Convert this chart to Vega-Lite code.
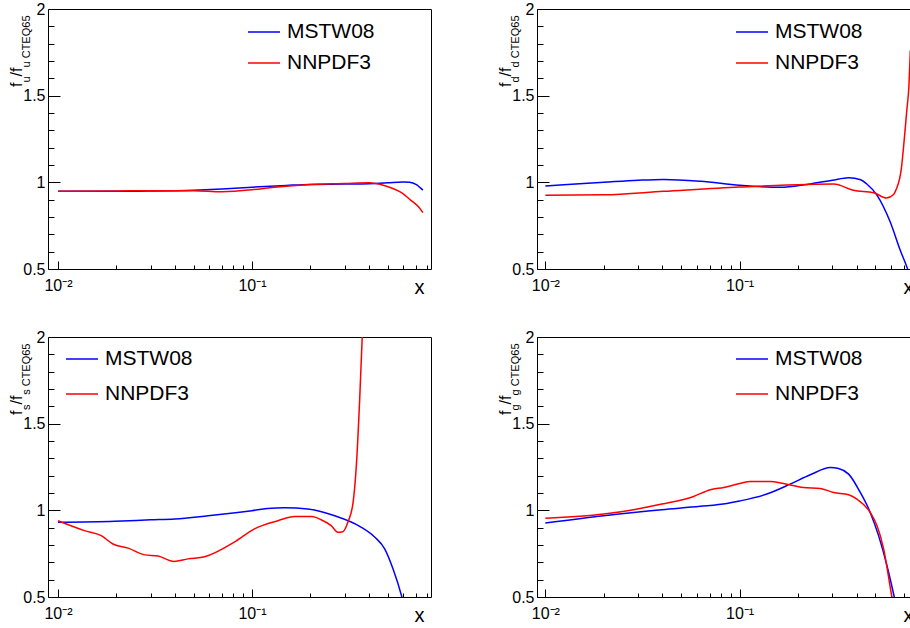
{
  "$schema": "https://vega.github.io/schema/vega-lite/v6.json",
  "padding": {"left": 7, "top": 0, "right": 0, "bottom": 0},
  "background": "white",
  "config": {
    "font": "Liberation Sans",
    "view": {"stroke": "black", "strokeWidth": 1},
    "axis": {"grid": false, "domain": false, "tickColor": "black", "tickWidth": 1, "labelColor": "black", "titleColor": "black", "titleFontWeight": "normal", "labelFont": "Liberation Sans", "titleFont": "Liberation Sans", "labelFlush": false, "labelOverlap": false, "labelBound": false},
    "legend": {"labelFont": "Liberation Sans", "labelColor": "black"}
  },
  "datasets": {
    "u": [
      {"x": 0.01, "y": 0.948, "pdf": "MSTW08"}, {"x": 0.015, "y": 0.948, "pdf": "MSTW08"}, {"x": 0.02, "y": 0.948, "pdf": "MSTW08"}, {"x": 0.03, "y": 0.95, "pdf": "MSTW08"}, {"x": 0.05, "y": 0.955, "pdf": "MSTW08"}, {"x": 0.07, "y": 0.962, "pdf": "MSTW08"}, {"x": 0.1, "y": 0.972, "pdf": "MSTW08"}, {"x": 0.15, "y": 0.982, "pdf": "MSTW08"}, {"x": 0.2, "y": 0.988, "pdf": "MSTW08"}, {"x": 0.3, "y": 0.99, "pdf": "MSTW08"}, {"x": 0.4, "y": 0.992, "pdf": "MSTW08"}, {"x": 0.5, "y": 0.997, "pdf": "MSTW08"}, {"x": 0.6, "y": 1.002, "pdf": "MSTW08"}, {"x": 0.65, "y": 1.0, "pdf": "MSTW08"}, {"x": 0.7, "y": 0.988, "pdf": "MSTW08"}, {"x": 0.76, "y": 0.955, "pdf": "MSTW08"},
      {"x": 0.01, "y": 0.948, "pdf": "NNPDF3"}, {"x": 0.02, "y": 0.95, "pdf": "NNPDF3"}, {"x": 0.03, "y": 0.952, "pdf": "NNPDF3"}, {"x": 0.05, "y": 0.952, "pdf": "NNPDF3"}, {"x": 0.07, "y": 0.946, "pdf": "NNPDF3"}, {"x": 0.1, "y": 0.957, "pdf": "NNPDF3"}, {"x": 0.13, "y": 0.972, "pdf": "NNPDF3"}, {"x": 0.2, "y": 0.988, "pdf": "NNPDF3"}, {"x": 0.3, "y": 0.993, "pdf": "NNPDF3"}, {"x": 0.4, "y": 0.997, "pdf": "NNPDF3"}, {"x": 0.48, "y": 0.982, "pdf": "NNPDF3"}, {"x": 0.59, "y": 0.94, "pdf": "NNPDF3"}, {"x": 0.66, "y": 0.896, "pdf": "NNPDF3"}, {"x": 0.72, "y": 0.86, "pdf": "NNPDF3"}, {"x": 0.76, "y": 0.825, "pdf": "NNPDF3"}
    ],
    "d": [
      {"x": 0.01, "y": 0.979, "pdf": "MSTW08"}, {"x": 0.02, "y": 1.0, "pdf": "MSTW08"}, {"x": 0.03, "y": 1.012, "pdf": "MSTW08"}, {"x": 0.0406, "y": 1.017, "pdf": "MSTW08"}, {"x": 0.063, "y": 1.006, "pdf": "MSTW08"}, {"x": 0.1, "y": 0.983, "pdf": "MSTW08"}, {"x": 0.162, "y": 0.971, "pdf": "MSTW08"}, {"x": 0.222, "y": 0.988, "pdf": "MSTW08"}, {"x": 0.3, "y": 1.012, "pdf": "MSTW08"}, {"x": 0.364, "y": 1.027, "pdf": "MSTW08"}, {"x": 0.42, "y": 1.015, "pdf": "MSTW08"}, {"x": 0.45, "y": 0.992, "pdf": "MSTW08"}, {"x": 0.51, "y": 0.925, "pdf": "MSTW08"}, {"x": 0.596, "y": 0.771, "pdf": "MSTW08"}, {"x": 0.671, "y": 0.608, "pdf": "MSTW08"}, {"x": 0.732, "y": 0.5, "pdf": "MSTW08"}, {"x": 0.76, "y": 0.44, "pdf": "MSTW08"},
      {"x": 0.01, "y": 0.925, "pdf": "NNPDF3"}, {"x": 0.02, "y": 0.928, "pdf": "NNPDF3"}, {"x": 0.0406, "y": 0.948, "pdf": "NNPDF3"}, {"x": 0.1, "y": 0.973, "pdf": "NNPDF3"}, {"x": 0.222, "y": 0.988, "pdf": "NNPDF3"}, {"x": 0.305, "y": 0.99, "pdf": "NNPDF3"}, {"x": 0.385, "y": 0.954, "pdf": "NNPDF3"}, {"x": 0.49, "y": 0.94, "pdf": "NNPDF3"}, {"x": 0.57, "y": 0.91, "pdf": "NNPDF3"}, {"x": 0.62, "y": 0.93, "pdf": "NNPDF3"}, {"x": 0.64, "y": 0.96, "pdf": "NNPDF3"}, {"x": 0.68, "y": 1.08, "pdf": "NNPDF3"}, {"x": 0.7, "y": 1.22, "pdf": "NNPDF3"}, {"x": 0.713, "y": 1.32, "pdf": "NNPDF3"}, {"x": 0.726, "y": 1.42, "pdf": "NNPDF3"}, {"x": 0.744, "y": 1.56, "pdf": "NNPDF3"}, {"x": 0.756, "y": 1.76, "pdf": "NNPDF3"}
    ],
    "s": [
      {"x": 0.01, "y": 0.931, "pdf": "MSTW08"}, {"x": 0.0196, "y": 0.937, "pdf": "MSTW08"}, {"x": 0.03, "y": 0.945, "pdf": "MSTW08"}, {"x": 0.04, "y": 0.95, "pdf": "MSTW08"}, {"x": 0.0594, "y": 0.969, "pdf": "MSTW08"}, {"x": 0.08, "y": 0.985, "pdf": "MSTW08"}, {"x": 0.1, "y": 0.998, "pdf": "MSTW08"}, {"x": 0.12, "y": 1.01, "pdf": "MSTW08"}, {"x": 0.147, "y": 1.015, "pdf": "MSTW08"}, {"x": 0.194, "y": 1.008, "pdf": "MSTW08"}, {"x": 0.267, "y": 0.969, "pdf": "MSTW08"}, {"x": 0.359, "y": 0.908, "pdf": "MSTW08"}, {"x": 0.43, "y": 0.845, "pdf": "MSTW08"}, {"x": 0.483, "y": 0.778, "pdf": "MSTW08"}, {"x": 0.533, "y": 0.663, "pdf": "MSTW08"}, {"x": 0.589, "y": 0.51, "pdf": "MSTW08"}, {"x": 0.65, "y": 0.3, "pdf": "MSTW08"},
      {"x": 0.01, "y": 0.94, "pdf": "NNPDF3"}, {"x": 0.0137, "y": 0.883, "pdf": "NNPDF3"}, {"x": 0.0167, "y": 0.854, "pdf": "NNPDF3"}, {"x": 0.0192, "y": 0.806, "pdf": "NNPDF3"}, {"x": 0.023, "y": 0.782, "pdf": "NNPDF3"}, {"x": 0.028, "y": 0.743, "pdf": "NNPDF3"}, {"x": 0.0328, "y": 0.736, "pdf": "NNPDF3"}, {"x": 0.0396, "y": 0.705, "pdf": "NNPDF3"}, {"x": 0.0468, "y": 0.72, "pdf": "NNPDF3"}, {"x": 0.057, "y": 0.732, "pdf": "NNPDF3"}, {"x": 0.081, "y": 0.816, "pdf": "NNPDF3"}, {"x": 0.103, "y": 0.893, "pdf": "NNPDF3"}, {"x": 0.136, "y": 0.94, "pdf": "NNPDF3"}, {"x": 0.166, "y": 0.964, "pdf": "NNPDF3"}, {"x": 0.203, "y": 0.964, "pdf": "NNPDF3"}, {"x": 0.227, "y": 0.946, "pdf": "NNPDF3"}, {"x": 0.256, "y": 0.912, "pdf": "NNPDF3"}, {"x": 0.277, "y": 0.874, "pdf": "NNPDF3"}, {"x": 0.294, "y": 0.877, "pdf": "NNPDF3"}, {"x": 0.312, "y": 0.931, "pdf": "NNPDF3"}, {"x": 0.332, "y": 1.046, "pdf": "NNPDF3"}, {"x": 0.345, "y": 1.257, "pdf": "NNPDF3"}, {"x": 0.359, "y": 1.64, "pdf": "NNPDF3"}, {"x": 0.37, "y": 2.0, "pdf": "NNPDF3"}, {"x": 0.38, "y": 2.4, "pdf": "NNPDF3"}
    ],
    "g": [
      {"x": 0.01, "y": 0.927, "pdf": "MSTW08"}, {"x": 0.02, "y": 0.969, "pdf": "MSTW08"}, {"x": 0.0398, "y": 1.004, "pdf": "MSTW08"}, {"x": 0.0627, "y": 1.023, "pdf": "MSTW08"}, {"x": 0.086, "y": 1.04, "pdf": "MSTW08"}, {"x": 0.1, "y": 1.054, "pdf": "MSTW08"}, {"x": 0.138, "y": 1.094, "pdf": "MSTW08"}, {"x": 0.182, "y": 1.151, "pdf": "MSTW08"}, {"x": 0.231, "y": 1.205, "pdf": "MSTW08"}, {"x": 0.293, "y": 1.247, "pdf": "MSTW08"}, {"x": 0.323, "y": 1.241, "pdf": "MSTW08"}, {"x": 0.364, "y": 1.209, "pdf": "MSTW08"}, {"x": 0.418, "y": 1.103, "pdf": "MSTW08"}, {"x": 0.47, "y": 0.988, "pdf": "MSTW08"}, {"x": 0.519, "y": 0.854, "pdf": "MSTW08"}, {"x": 0.573, "y": 0.682, "pdf": "MSTW08"}, {"x": 0.625, "y": 0.5, "pdf": "MSTW08"}, {"x": 0.68, "y": 0.3, "pdf": "MSTW08"},
      {"x": 0.01, "y": 0.954, "pdf": "NNPDF3"}, {"x": 0.02, "y": 0.979, "pdf": "NNPDF3"}, {"x": 0.0285, "y": 1.004, "pdf": "NNPDF3"}, {"x": 0.0398, "y": 1.036, "pdf": "NNPDF3"}, {"x": 0.058, "y": 1.08, "pdf": "NNPDF3"}, {"x": 0.0706, "y": 1.119, "pdf": "NNPDF3"}, {"x": 0.0829, "y": 1.132, "pdf": "NNPDF3"}, {"x": 0.1, "y": 1.155, "pdf": "NNPDF3"}, {"x": 0.114, "y": 1.167, "pdf": "NNPDF3"}, {"x": 0.144, "y": 1.167, "pdf": "NNPDF3"}, {"x": 0.168, "y": 1.155, "pdf": "NNPDF3"}, {"x": 0.213, "y": 1.132, "pdf": "NNPDF3"}, {"x": 0.26, "y": 1.126, "pdf": "NNPDF3"}, {"x": 0.305, "y": 1.103, "pdf": "NNPDF3"}, {"x": 0.364, "y": 1.09, "pdf": "NNPDF3"}, {"x": 0.402, "y": 1.065, "pdf": "NNPDF3"}, {"x": 0.47, "y": 0.988, "pdf": "NNPDF3"}, {"x": 0.509, "y": 0.912, "pdf": "NNPDF3"}, {"x": 0.551, "y": 0.778, "pdf": "NNPDF3"}, {"x": 0.608, "y": 0.5, "pdf": "NNPDF3"}, {"x": 0.66, "y": 0.3, "pdf": "NNPDF3"}
    ]
  },
  "columns": 2,
  "spacing": {"row": 68, "column": 106},
  "bounds": "flush",
  "resolve": {"legend": {"color": "independent"}},
  "concat": [
    {
      "width": 383, "height": 260, "data": {"name": "u"},
      "resolve": {"axis": {"x": "independent", "y": "independent"}},
      "layer": [
        {"mark": {"type": "line", "strokeWidth": 1.5, "clip": true, "interpolate": "monotone"},
         "encoding": {
           "x": {"field": "x", "type": "quantitative", "scale": {"type": "log", "domain": [0.00888, 0.837], "nice": false}, "axis": {"orient": "bottom", "values": [0.01, 0.1], "tickSize": -8, "labelPadding": 16, "labelBaseline": "top", "labelFontSize": 16, "labelExpr": "datum.value < 0.05 ? '10⁻²' : '10⁻¹'", "title": "x", "titleFontSize": 20, "titleAlign": "right", "titleBaseline": "alphabetic", "titleX": 376, "titleY": 24}},
           "y": {"field": "y", "type": "quantitative", "scale": {"domain": [0.5, 2], "nice": false, "zero": false}, "axis": {"orient": "left", "values": [0.5, 1, 1.5, 2], "tickSize": -12, "labelPadding": 15, "labelFontSize": 16, "labelBaseline": "middle", "labelExpr": "'' + datum.value", "title": "f", "titleFontSize": 16, "titleAngle": 270, "titleAlign": "right", "titleBaseline": "alphabetic", "titleX": -27, "titleY": 73}},
           "color": {"field": "pdf", "type": "nominal", "scale": {"domain": ["MSTW08", "NNPDF3"], "range": ["#0000ff", "#ff0000"]}, "legend": {"orient": "none", "legendX": 199, "legendY": 6, "title": null, "symbolType": "stroke", "symbolSize": 1024, "symbolStrokeWidth": 1.5, "labelFontSize": 21, "labelOffset": 6, "rowPadding": 4, "padding": 0}}
         }},
        {"mark": {"type": "line", "strokeOpacity": 0, "clip": true},
         "encoding": {
           "x": {"field": "x", "type": "quantitative", "scale": {"type": "log", "domain": [0.00888, 0.837], "nice": false}, "axis": {"orient": "bottom", "values": [0.02, 0.03, 0.04, 0.05, 0.06, 0.07, 0.08, 0.09, 0.2, 0.3, 0.4, 0.5, 0.6, 0.7, 0.8], "tickSize": -4, "labels": false, "title": null}},
           "y": {"field": "y", "type": "quantitative", "scale": {"domain": [0.5, 2], "nice": false, "zero": false}, "axis": {"orient": "left", "values": [0.6, 0.7, 0.8, 0.9, 1.1, 1.2, 1.3, 1.4, 1.6, 1.7, 1.8, 1.9], "tickSize": -6, "labels": false, "title": "u", "titleFontSize": 11, "titleAngle": 270, "titleAlign": "right", "titleBaseline": "alphabetic", "titleX": -19, "titleY": 66.9}},
           "detail": {"field": "pdf"}
         }},
        {"mark": {"type": "line", "strokeOpacity": 0, "clip": true},
         "encoding": {
           "x": {"field": "x", "type": "quantitative", "axis": null},
           "y": {"field": "y", "type": "quantitative", "axis": {"orient": "left", "ticks": false, "labels": false, "title": "/f", "titleFontSize": 16, "titleAngle": 270, "titleAlign": "right", "titleBaseline": "alphabetic", "titleX": -27, "titleY": 58}},
           "detail": {"field": "pdf"}
         }},
        {"mark": {"type": "line", "strokeOpacity": 0, "clip": true},
         "encoding": {
           "x": {"field": "x", "type": "quantitative", "axis": null},
           "y": {"field": "y", "type": "quantitative", "axis": {"orient": "left", "ticks": false, "labels": false, "title": "u CTEQ65", "titleFontSize": 11, "titleAngle": 270, "titleAlign": "right", "titleBaseline": "alphabetic", "titleX": -19, "titleY": 6}},
           "detail": {"field": "pdf"}
         }}
      ]
    },
    {
      "width": 383, "height": 260, "data": {"name": "d"},
      "resolve": {"axis": {"x": "independent", "y": "independent"}},
      "layer": [
        {"mark": {"type": "line", "strokeWidth": 1.5, "clip": true, "interpolate": "monotone"},
         "encoding": {
           "x": {"field": "x", "type": "quantitative", "scale": {"type": "log", "domain": [0.00906, 0.848], "nice": false}, "axis": {"orient": "bottom", "values": [0.01, 0.1], "tickSize": -8, "labelPadding": 16, "labelBaseline": "top", "labelFontSize": 16, "labelExpr": "datum.value < 0.05 ? '10⁻²' : '10⁻¹'", "title": "x", "titleFontSize": 20, "titleAlign": "right", "titleBaseline": "alphabetic", "titleX": 376, "titleY": 24}},
           "y": {"field": "y", "type": "quantitative", "scale": {"domain": [0.5, 2], "nice": false, "zero": false}, "axis": {"orient": "left", "values": [0.5, 1, 1.5, 2], "tickSize": -12, "labelPadding": 15, "labelFontSize": 16, "labelBaseline": "middle", "labelExpr": "'' + datum.value", "title": "f", "titleFontSize": 16, "titleAngle": 270, "titleAlign": "right", "titleBaseline": "alphabetic", "titleX": -27, "titleY": 73}},
           "color": {"field": "pdf", "type": "nominal", "scale": {"domain": ["MSTW08", "NNPDF3"], "range": ["#0000ff", "#ff0000"]}, "legend": {"orient": "none", "legendX": 198, "legendY": 6, "title": null, "symbolType": "stroke", "symbolSize": 1024, "symbolStrokeWidth": 1.5, "labelFontSize": 21, "labelOffset": 6, "rowPadding": 4, "padding": 0}}
         }},
        {"mark": {"type": "line", "strokeOpacity": 0, "clip": true},
         "encoding": {
           "x": {"field": "x", "type": "quantitative", "scale": {"type": "log", "domain": [0.00906, 0.848], "nice": false}, "axis": {"orient": "bottom", "values": [0.02, 0.03, 0.04, 0.05, 0.06, 0.07, 0.08, 0.09, 0.2, 0.3, 0.4, 0.5, 0.6, 0.7, 0.8], "tickSize": -4, "labels": false, "title": null}},
           "y": {"field": "y", "type": "quantitative", "scale": {"domain": [0.5, 2], "nice": false, "zero": false}, "axis": {"orient": "left", "values": [0.6, 0.7, 0.8, 0.9, 1.1, 1.2, 1.3, 1.4, 1.6, 1.7, 1.8, 1.9], "tickSize": -6, "labels": false, "title": "d", "titleFontSize": 11, "titleAngle": 270, "titleAlign": "right", "titleBaseline": "alphabetic", "titleX": -19, "titleY": 66.9}},
           "detail": {"field": "pdf"}
         }},
        {"mark": {"type": "line", "strokeOpacity": 0, "clip": true},
         "encoding": {
           "x": {"field": "x", "type": "quantitative", "axis": null},
           "y": {"field": "y", "type": "quantitative", "axis": {"orient": "left", "ticks": false, "labels": false, "title": "/f", "titleFontSize": 16, "titleAngle": 270, "titleAlign": "right", "titleBaseline": "alphabetic", "titleX": -27, "titleY": 58}},
           "detail": {"field": "pdf"}
         }},
        {"mark": {"type": "line", "strokeOpacity": 0, "clip": true},
         "encoding": {
           "x": {"field": "x", "type": "quantitative", "axis": null},
           "y": {"field": "y", "type": "quantitative", "axis": {"orient": "left", "ticks": false, "labels": false, "title": "d CTEQ65", "titleFontSize": 11, "titleAngle": 270, "titleAlign": "right", "titleBaseline": "alphabetic", "titleX": -19, "titleY": 6}},
           "detail": {"field": "pdf"}
         }}
      ]
    },
    {
      "width": 383, "height": 260, "data": {"name": "s"},
      "resolve": {"axis": {"x": "independent", "y": "independent"}},
      "layer": [
        {"mark": {"type": "line", "strokeWidth": 1.5, "clip": true, "interpolate": "monotone"},
         "encoding": {
           "x": {"field": "x", "type": "quantitative", "scale": {"type": "log", "domain": [0.00888, 0.837], "nice": false}, "axis": {"orient": "bottom", "values": [0.01, 0.1], "tickSize": -8, "labelPadding": 16, "labelBaseline": "top", "labelFontSize": 16, "labelExpr": "datum.value < 0.05 ? '10⁻²' : '10⁻¹'", "title": "x", "titleFontSize": 20, "titleAlign": "right", "titleBaseline": "alphabetic", "titleX": 376, "titleY": 24}},
           "y": {"field": "y", "type": "quantitative", "scale": {"domain": [0.5, 2], "nice": false, "zero": false}, "axis": {"orient": "left", "values": [0.5, 1, 1.5, 2], "tickSize": -12, "labelPadding": 15, "labelFontSize": 16, "labelBaseline": "middle", "labelExpr": "'' + datum.value", "title": "f", "titleFontSize": 16, "titleAngle": 270, "titleAlign": "right", "titleBaseline": "alphabetic", "titleX": -27, "titleY": 73}},
           "color": {"field": "pdf", "type": "nominal", "scale": {"domain": ["MSTW08", "NNPDF3"], "range": ["#0000ff", "#ff0000"]}, "legend": {"orient": "none", "legendX": 17, "legendY": 5, "title": null, "symbolType": "stroke", "symbolSize": 1024, "symbolStrokeWidth": 1.5, "labelFontSize": 21, "labelOffset": 6, "rowPadding": 8, "padding": 0}}
         }},
        {"mark": {"type": "line", "strokeOpacity": 0, "clip": true},
         "encoding": {
           "x": {"field": "x", "type": "quantitative", "scale": {"type": "log", "domain": [0.00888, 0.837], "nice": false}, "axis": {"orient": "bottom", "values": [0.02, 0.03, 0.04, 0.05, 0.06, 0.07, 0.08, 0.09, 0.2, 0.3, 0.4, 0.5, 0.6, 0.7, 0.8], "tickSize": -4, "labels": false, "title": null}},
           "y": {"field": "y", "type": "quantitative", "scale": {"domain": [0.5, 2], "nice": false, "zero": false}, "axis": {"orient": "left", "values": [0.6, 0.7, 0.8, 0.9, 1.1, 1.2, 1.3, 1.4, 1.6, 1.7, 1.8, 1.9], "tickSize": -6, "labels": false, "title": "s", "titleFontSize": 11, "titleAngle": 270, "titleAlign": "right", "titleBaseline": "alphabetic", "titleX": -19, "titleY": 66.9}},
           "detail": {"field": "pdf"}
         }},
        {"mark": {"type": "line", "strokeOpacity": 0, "clip": true},
         "encoding": {
           "x": {"field": "x", "type": "quantitative", "axis": null},
           "y": {"field": "y", "type": "quantitative", "axis": {"orient": "left", "ticks": false, "labels": false, "title": "/f", "titleFontSize": 16, "titleAngle": 270, "titleAlign": "right", "titleBaseline": "alphabetic", "titleX": -27, "titleY": 58}},
           "detail": {"field": "pdf"}
         }},
        {"mark": {"type": "line", "strokeOpacity": 0, "clip": true},
         "encoding": {
           "x": {"field": "x", "type": "quantitative", "axis": null},
           "y": {"field": "y", "type": "quantitative", "axis": {"orient": "left", "ticks": false, "labels": false, "title": "s CTEQ65", "titleFontSize": 11, "titleAngle": 270, "titleAlign": "right", "titleBaseline": "alphabetic", "titleX": -19, "titleY": 6}},
           "detail": {"field": "pdf"}
         }}
      ]
    },
    {
      "width": 383, "height": 260, "data": {"name": "g"},
      "resolve": {"axis": {"x": "independent", "y": "independent"}},
      "layer": [
        {"mark": {"type": "line", "strokeWidth": 1.5, "clip": true, "interpolate": "monotone"},
         "encoding": {
           "x": {"field": "x", "type": "quantitative", "scale": {"type": "log", "domain": [0.00906, 0.848], "nice": false}, "axis": {"orient": "bottom", "values": [0.01, 0.1], "tickSize": -8, "labelPadding": 16, "labelBaseline": "top", "labelFontSize": 16, "labelExpr": "datum.value < 0.05 ? '10⁻²' : '10⁻¹'", "title": "x", "titleFontSize": 20, "titleAlign": "right", "titleBaseline": "alphabetic", "titleX": 376, "titleY": 24}},
           "y": {"field": "y", "type": "quantitative", "scale": {"domain": [0.5, 2], "nice": false, "zero": false}, "axis": {"orient": "left", "values": [0.5, 1, 1.5, 2], "tickSize": -12, "labelPadding": 15, "labelFontSize": 16, "labelBaseline": "middle", "labelExpr": "'' + datum.value", "title": "f", "titleFontSize": 16, "titleAngle": 270, "titleAlign": "right", "titleBaseline": "alphabetic", "titleX": -27, "titleY": 73}},
           "color": {"field": "pdf", "type": "nominal", "scale": {"domain": ["MSTW08", "NNPDF3"], "range": ["#0000ff", "#ff0000"]}, "legend": {"orient": "none", "legendX": 198, "legendY": 5, "title": null, "symbolType": "stroke", "symbolSize": 1024, "symbolStrokeWidth": 1.5, "labelFontSize": 21, "labelOffset": 6, "rowPadding": 8, "padding": 0}}
         }},
        {"mark": {"type": "line", "strokeOpacity": 0, "clip": true},
         "encoding": {
           "x": {"field": "x", "type": "quantitative", "scale": {"type": "log", "domain": [0.00906, 0.848], "nice": false}, "axis": {"orient": "bottom", "values": [0.02, 0.03, 0.04, 0.05, 0.06, 0.07, 0.08, 0.09, 0.2, 0.3, 0.4, 0.5, 0.6, 0.7, 0.8], "tickSize": -4, "labels": false, "title": null}},
           "y": {"field": "y", "type": "quantitative", "scale": {"domain": [0.5, 2], "nice": false, "zero": false}, "axis": {"orient": "left", "values": [0.6, 0.7, 0.8, 0.9, 1.1, 1.2, 1.3, 1.4, 1.6, 1.7, 1.8, 1.9], "tickSize": -6, "labels": false, "title": "g", "titleFontSize": 11, "titleAngle": 270, "titleAlign": "right", "titleBaseline": "alphabetic", "titleX": -19, "titleY": 66.9}},
           "detail": {"field": "pdf"}
         }},
        {"mark": {"type": "line", "strokeOpacity": 0, "clip": true},
         "encoding": {
           "x": {"field": "x", "type": "quantitative", "axis": null},
           "y": {"field": "y", "type": "quantitative", "axis": {"orient": "left", "ticks": false, "labels": false, "title": "/f", "titleFontSize": 16, "titleAngle": 270, "titleAlign": "right", "titleBaseline": "alphabetic", "titleX": -27, "titleY": 58}},
           "detail": {"field": "pdf"}
         }},
        {"mark": {"type": "line", "strokeOpacity": 0, "clip": true},
         "encoding": {
           "x": {"field": "x", "type": "quantitative", "axis": null},
           "y": {"field": "y", "type": "quantitative", "axis": {"orient": "left", "ticks": false, "labels": false, "title": "g CTEQ65", "titleFontSize": 11, "titleAngle": 270, "titleAlign": "right", "titleBaseline": "alphabetic", "titleX": -19, "titleY": 6}},
           "detail": {"field": "pdf"}
         }}
      ]
    }
  ]
}
